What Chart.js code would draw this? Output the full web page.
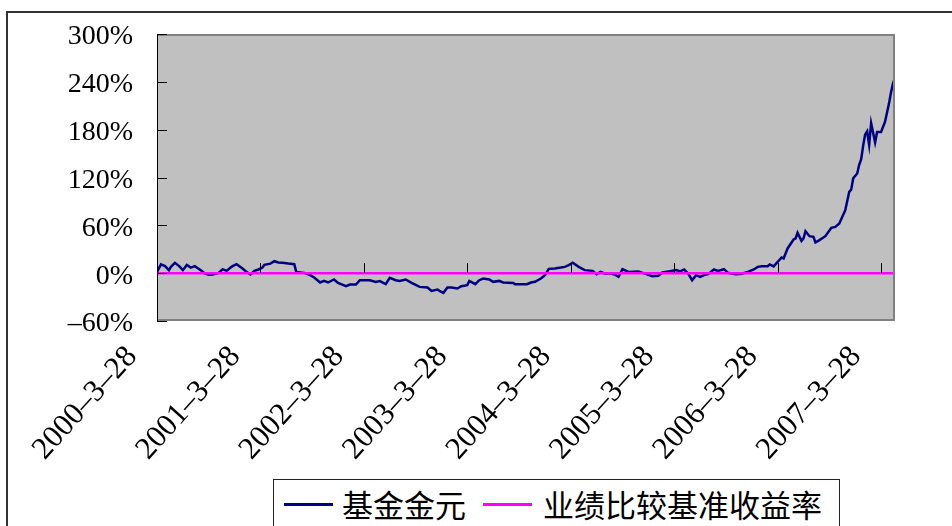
<!DOCTYPE html>
<html>
<head>
<meta charset="utf-8">
<script src="https://cdn.jsdelivr.net/npm/chart.js@4.4.1/dist/chart.umd.min.js"></script>
<style>
  html, body { margin: 0; padding: 0; background: #fff; overflow: hidden; }
  #wrap { position: relative; width: 952px; height: 526px; overflow: hidden; }
  #frame { position: absolute; left: 6px; top: 11px; width: 990px; height: 560px;
           border: 2px solid #333; box-sizing: border-box; }
  #chart { position: absolute; left: 0; top: 0; }
  #legend { position: absolute; left: 273px; top: 479px; width: 567px; height: 70px;
            border: 1px solid #222; box-sizing: border-box; background: #fff;
            font-family: "Noto Sans CJK SC", sans-serif; font-size: 31px; color: #000; }
  #legend .ln { position: absolute; top: 23px; width: 49px; height: 2.5px; }
  #legend .tx { position: absolute; top: 8px; line-height: 31px; white-space: nowrap; }
</style>
</head>
<body>
<div id="wrap">
  <div id="frame"></div>
  <canvas id="chart" width="952" height="526"></canvas>
  <div id="legend">
    <div class="ln" style="left:10px;background:#000080"></div>
    <div class="tx" style="left:68px">基金金元</div>
    <div class="ln" style="left:209px;background:#ff00ff"></div>
    <div class="tx" style="left:269px">业绩比较基准收益率</div>
  </div>
</div>
<script>
// Year marks on the week axis (one every 52 weekly observations)
const tickLabels = ["2000-3-28", "2001-3-28", "2002-3-28", "2003-3-28",
                    "2004-3-28", "2005-3-28", "2006-3-28", "2007-3-28"];
const WEEKS_PER_YEAR = 52;
const LAST_WEEK = 371;

// Cumulative return of 基金金元 (%), indexed by week since 2000-3-28
const fundWeeks = [
  0, 2, 4, 6, 7, 9, 11, 13, 15, 17, 19, 22, 24, 26, 28, 31, 33, 35, 37, 38,
  40, 43, 45, 47, 49, 51, 53, 54, 57, 59, 61, 63, 66, 69, 70, 74, 77, 79, 82, 84,
  86, 89, 91, 95, 97, 100, 102, 107, 110, 112, 115, 117, 120, 122, 125, 128, 132, 136, 138, 141,
  142, 144, 146, 148, 151, 153, 156, 157, 160, 162, 164, 167, 169, 172, 174, 179, 180, 186, 188, 190,
  193, 195, 196, 197, 200, 203, 205, 207, 209, 212, 215, 219, 221, 223, 225, 228, 230, 232, 234, 237,
  242, 246, 249, 252, 254, 258, 261, 263, 265, 267, 269, 271, 273, 275, 277, 280, 282, 285, 287, 291,
  294, 297, 300, 302, 304, 307, 308, 310, 311, 314, 315, 317, 320, 321, 322, 324, 325, 326, 328, 330,
  331, 333, 336, 339, 341, 343, 346, 348, 349, 350, 352, 353, 354, 355, 356, 357, 358, 359, 360, 361,
  362, 364, 366, 368, 369, 370, 371
];
const fundReturn = [
  1.6, 11, 8.8, 3.8, 7.9, 13, 9.2, 3.8, 10.4, 7, 8.8, 3.8, -0.4, -2, -1.6, 0.4, 5, 2.9, 7, 8.8,
  11.3, 5.9, 1.6, -1.6, 2.9, 4.6, 7, 10.4, 12, 15, 13.4, 13, 12, 11.3, 1.6, 0.4, -2.5, -5.4, -11.7, -9.7,
  -11.7, -7.9, -12.2, -16.3, -14.2, -14.2, -8.8, -8.8, -10.9, -10, -13.8, -5.9, -8.8, -9.7, -7.9, -12.2, -17.2, -18, -22.2, -20.5,
  -22.2, -24.7, -18, -18, -19.2, -16.3, -15, -9.7, -13.8, -8.8, -6.7, -7.9, -10.9, -9.7, -11.7, -12.2, -13.8, -13.8, -11.7, -10.9,
  -6.7, -2.5, 1.6, 5.4, 5.9, 7, 7.9, 10, 13, 7.9, 3.8, 2.9, -1.2, 1.6, -0.4, -0.4, -1.6, -4.6, 5, 1.6,
  2.1, -1.2, -3.8, -3.3, 0.8, 2.5, 3.8, 2.1, 4.6, -0.4, -8.8, -2.5, -4.6, -2.5, -1.2, 4.6, 2.9, 5, 0.4, -1.2,
  -0.8, 1.6, 4.6, 7.9, 8.8, 8.8, 10.9, 8.5, 11.3, 19.7, 18.4, 31, 42.3, 43.5, 50.6, 40.5, 43.5, 52.7, 46.4, 45.5,
  38.5, 41.4, 46.4, 56.8, 58.1, 62.3, 79, 102, 105, 119, 125, 136, 143, 160, 174, 178, 161, 188, 176, 164,
  177, 177, 190, 213, 227, 238, 245
];

// Benchmark return (%) – flat at zero over the whole period
const benchWeeks = [0, 371];
const benchReturn = [0, 0];

const yTicks = [-60, 0, 60, 120, 180, 240, 300];

const toPoints = (xs, ys) => xs.map((x, i) => ({ x, y: ys[i] }));
const dashed = s => s.replace(/-/g, '\u2013');

// Grey plot panel, frame and inward tick marks
const plotPanel = {
  id: 'plotPanel',
  beforeDraw(chart) {
    const { ctx, chartArea: a } = chart;
    ctx.save();
    ctx.fillStyle = '#c0c0c0';
    ctx.fillRect(a.left, a.top, a.right - a.left, a.bottom - a.top);
    ctx.restore();
  },
  afterDatasetsDraw(chart) {
    const { ctx, chartArea: a, scales } = chart;
    ctx.save();
    ctx.strokeStyle = '#808080';
    ctx.lineWidth = 2;
    ctx.beginPath();
    ctx.moveTo(a.left, a.top + 1);
    ctx.lineTo(a.right - 1, a.top + 1);
    ctx.lineTo(a.right - 1, a.bottom - 1);
    ctx.lineTo(a.left, a.bottom - 1);
    ctx.stroke();
    ctx.strokeStyle = '#000';
    ctx.lineWidth = 1;
    ctx.beginPath();
    ctx.moveTo(a.left + 0.5, a.top);
    ctx.lineTo(a.left + 0.5, a.bottom);
    yTicks.forEach(v => {
      const py = Math.round(scales.y.getPixelForValue(v)) + 0.5;
      ctx.moveTo(a.left, py);
      ctx.lineTo(a.left + 10, py);
    });
    const y0 = Math.round(scales.y.getPixelForValue(0));
    tickLabels.forEach((_, i) => {
      if (i === 0) return;
      const px = Math.round(scales.x.getPixelForValue(i * WEEKS_PER_YEAR)) + 0.5;
      ctx.moveTo(px, y0 - 10);
      ctx.lineTo(px, y0);
    });
    ctx.stroke();
    ctx.restore();
  }
};

const serifFamily = '"Liberation Serif", "Times New Roman", serif';

new Chart(document.getElementById('chart'), {
  type: 'line',
  data: {
    datasets: [
      {
        label: '业绩比较基准收益率',
        data: toPoints(benchWeeks, benchReturn),
        borderColor: '#ff00ff',
        borderWidth: 2.5,
        pointRadius: 0,
        tension: 0
      },
      {
        label: '基金金元',
        data: toPoints(fundWeeks, fundReturn),
        borderColor: '#000080',
        borderWidth: 2.5,
        pointRadius: 0,
        tension: 0
      }
    ]
  },
  options: {
    responsive: false,
    animation: false,
    devicePixelRatio: 1,
    layout: { padding: { left: 0, top: 34, right: 57, bottom: 0 } },
    plugins: { legend: { display: false }, tooltip: { enabled: false } },
    scales: {
      x: {
        type: 'linear',
        min: 0,
        max: LAST_WEEK,
        afterBuildTicks: s => { s.ticks = tickLabels.map((_, i) => ({ value: i * WEEKS_PER_YEAR })); },
        afterFit: s => { s.height = 526 - 321; },
        grid: { display: false, drawTicks: false },
        border: { display: false },
        ticks: {
          autoSkip: false,
          minRotation: 48,
          maxRotation: 48,
          padding: 18,
          labelOffset: -25,
          color: '#000',
          font: { family: serifFamily, size: 31 },
          callback: (v, i) => dashed(tickLabels[i])
        }
      },
      y: {
        min: -60,
        max: 300,
        afterBuildTicks: s => { s.ticks = yTicks.map(v => ({ value: v })); },
        afterFit: s => { s.width = 157; },
        // tick marks are drawn by plotPanel; tickLength only sets the label gap
        grid: { display: false, drawTicks: true, tickLength: 24 },
        border: { display: false },
        ticks: {
          padding: 0,
          labelOffset: 3,
          color: '#000',
          font: { family: serifFamily, size: 28 },
          callback: v => dashed(String(v)) + '%'
        }
      }
    }
  },
  plugins: [plotPanel]
});
</script>
</body>
</html>
